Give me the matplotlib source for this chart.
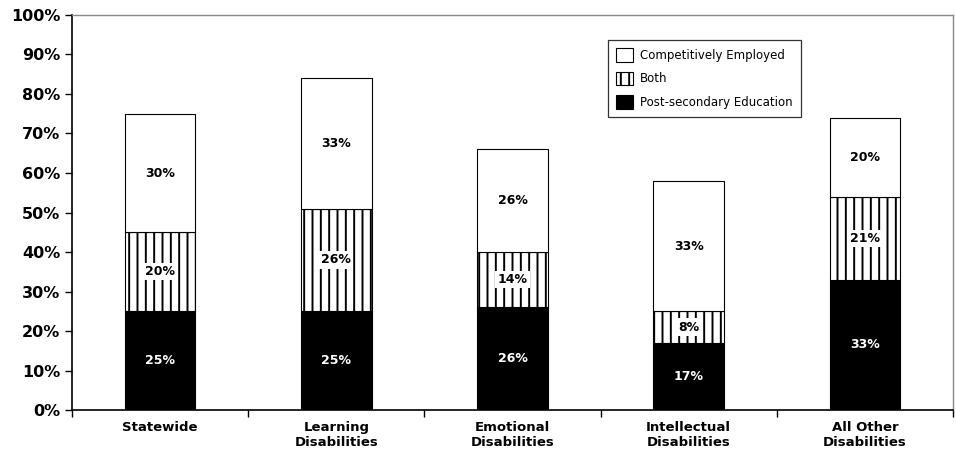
import numpy as np
import matplotlib
matplotlib.use("Agg")
import matplotlib.pyplot as plt
from matplotlib.ticker import PercentFormatter

categories = ["Statewide", "Learning\nDisabilities", "Emotional\nDisabilities",
              "Intellectual\nDisabilities", "All Other\nDisabilities"]
postsecondary = [25, 25, 26, 17, 33]
both = [20, 26, 14, 8, 21]
employed = [30, 33, 26, 33, 20]

plt.rcParams['font.family'] = 'DejaVu Sans'
plt.rcParams['hatch.linewidth'] = 1.4

fig = plt.figure(figsize=(9.56, 4.53), dpi=100)
ax = fig.add_axes([0.0753, 0.0949, 0.9216, 0.872])

x = np.arange(len(categories))
w = 0.40
ps = np.array(postsecondary)
bo = np.array(both)
em = np.array(employed)

b1 = ax.bar(x, ps, w, color='black', edgecolor='black', linewidth=0.8,
            label='Post-secondary Education')
b2 = ax.bar(x, bo, w, bottom=ps, color='white', edgecolor='black', linewidth=0.8,
            hatch='||', label='Both')
b3 = ax.bar(x, em, w, bottom=ps + bo, color='white', edgecolor='black', linewidth=0.8,
            label='Competitively Employed')

for i in range(len(x)):
    ax.text(x[i], ps[i] / 2, f"{ps[i]}%", ha='center', va='center',
            color='white', fontsize=9, fontweight='bold')
    ax.text(x[i], ps[i] + bo[i] / 2, f"{bo[i]}%", ha='center', va='center',
            color='black', fontsize=9, fontweight='bold',
            bbox=dict(facecolor='white', edgecolor='none', pad=1.5))
    ax.text(x[i], ps[i] + bo[i] + em[i] / 2, f"{em[i]}%", ha='center', va='center',
            color='black', fontsize=9, fontweight='bold')

ax.set_xlim(-0.5, len(categories) - 0.5)
ax.set_ylim(0, 100)
ax.set_yticks(np.arange(0, 101, 10))
ax.yaxis.set_major_formatter(PercentFormatter(decimals=0))
ax.set_xticks(x)
ax.set_xticklabels(categories, fontsize=9.5, fontweight='semibold')
ax.set_xticks(np.arange(-0.5, len(categories), 1), minor=True)
ax.tick_params(axis='x', which='major', length=0, pad=8)
ax.tick_params(axis='x', which='minor', length=5, width=1, direction='out')
ax.tick_params(axis='y', labelsize=11.5, length=5, width=1, direction='out')
for lbl in ax.get_yticklabels():
    lbl.set_fontweight('bold')

for s in ['top', 'right']:
    ax.spines[s].set_color('#888888')
    ax.spines[s].set_linewidth(1)
ax.spines['left'].set_linewidth(1.2)
ax.spines['bottom'].set_linewidth(1.2)

leg = ax.legend(handles=[b3, b2, b1], loc='upper left', bbox_to_anchor=(0.6015, 0.9525),
                fontsize=8.5, frameon=True, fancybox=False, edgecolor='black',
                handlelength=1.4, handleheight=1.4, borderpad=0.7, labelspacing=0.85,
                handletextpad=0.6)
leg.get_frame().set_linewidth(0.9)

plt.savefig("out.png", dpi=100)
